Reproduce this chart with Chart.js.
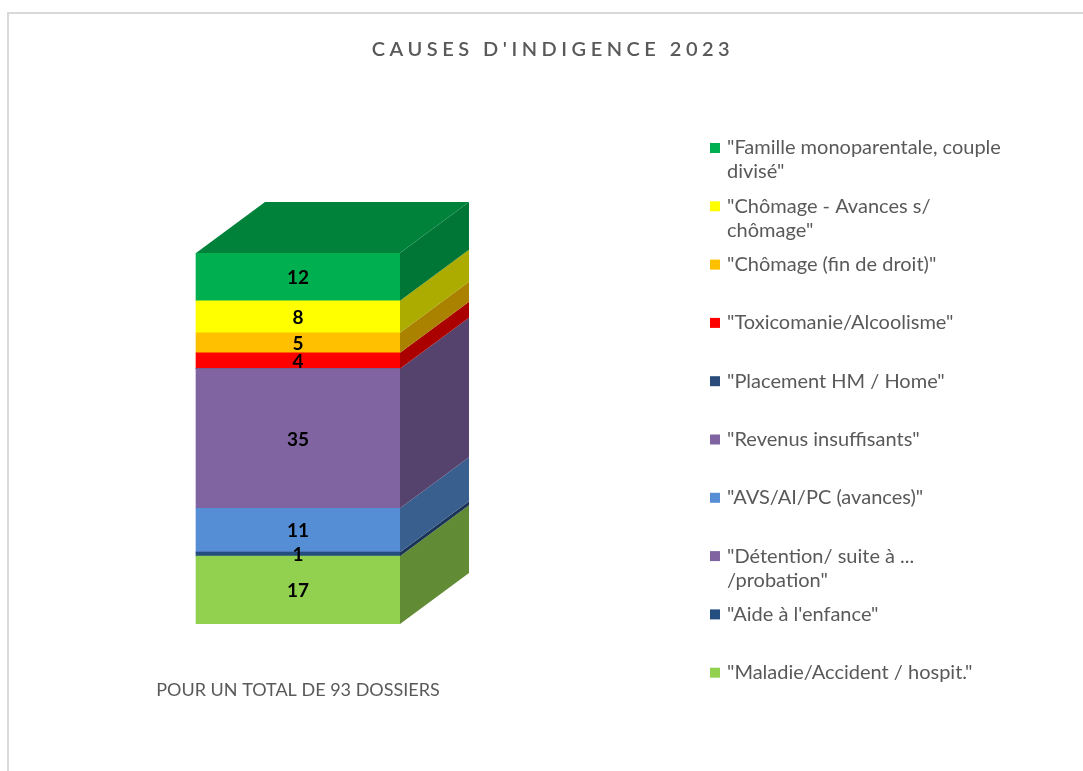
<!DOCTYPE html>
<html>
<head>
<meta charset="utf-8">
<script src="https://cdn.jsdelivr.net/npm/chart.js@4"></script>
<style>
  html, body { margin: 0; padding: 0; background: #ffffff; overflow: hidden; }
  #frame { position: absolute; left: 7px; top: 12px; width: 1200px; height: 900px; border-left: 2px solid #d9d9d9; border-top: 2px solid #d9d9d9; }
  #c { position: absolute; left: 0; top: 0; }
</style>
</head>
<body>
<div id="frame"></div>
<canvas id="c" width="1083" height="771"></canvas>
<script>
// ---- data (stack order, bottom to top) ----
const titleText = "CAUSES D'INDIGENCE 2023";
const categories = ['POUR UN TOTAL DE 93 DOSSIERS'];
const seriesNames = [
  '"Maladie/Accident / hospit."',
  '"Aide à l\'enfance"',
  '"Détention/ suite à ... /probation"',
  '"AVS/AI/PC (avances)"',
  '"Revenus insuffisants"',
  '"Placement HM / Home"',
  '"Toxicomanie/Alcoolisme"',
  '"Chômage (fin de droit)"',
  '"Chômage - Avances s/ chômage"',
  '"Famille monoparentale, couple divisé"'
];
const seriesValues = [17, 1, 0, 11, 35, 0, 4, 5, 8, 12];
const seriesColors = ['#92D050', '#254E80', '#8064A2', '#558ED5', '#8064A2', '#2A4C7A', '#FF0000', '#FFC000', '#FFFF00', '#00B050'];
const yMax = 93;

// ---- helpers ----
function shade(hex, f) {
  const n = parseInt(hex.slice(1), 16);
  const r = Math.round(((n >> 16) & 255) * f), g = Math.round(((n >> 8) & 255) * f), b = Math.round((n & 255) * f);
  return 'rgb(' + r + ',' + g + ',' + b + ')';
}
const DX = 69, DY = 51;
const FONT = 'Lato, "Open Sans", sans-serif';

const bar3d = {
  id: 'bar3d',
  afterDatasetsDraw(chart) {
    const ctx = chart.ctx;
    let topIdx = -1;
    chart.data.datasets.forEach((ds, i) => { if (ds.data[0] > 0) topIdx = i; });
    chart.data.datasets.forEach((ds, i) => {
      if (!(ds.data[0] > 0)) return;
      const el = chart.getDatasetMeta(i).data[0];
      const p = el.getProps(['x', 'y', 'base', 'width'], true);
      const left = p.x - p.width / 2, right = p.x + p.width / 2;
      ctx.save();
      ctx.fillStyle = shade(ds.backgroundColor, 0.67);
      ctx.beginPath();
      ctx.moveTo(right, p.y);
      ctx.lineTo(right + DX, p.y - DY);
      ctx.lineTo(right + DX, p.base - DY);
      ctx.lineTo(right, p.base);
      ctx.closePath();
      ctx.fill();
      if (i === topIdx) {
        ctx.fillStyle = shade(ds.backgroundColor, 0.74);
        ctx.beginPath();
        ctx.moveTo(left, p.y);
        ctx.lineTo(left + DX, p.y - DY);
        ctx.lineTo(right + DX, p.y - DY);
        ctx.lineTo(right, p.y);
        ctx.closePath();
        ctx.fill();
      }
      ctx.restore();
    });
    // value labels
    chart.data.datasets.forEach((ds, i) => {
      if (!(ds.data[0] > 0)) return;
      const el = chart.getDatasetMeta(i).data[0];
      const p = el.getProps(['x', 'y', 'base'], true);
      ctx.save();
      ctx.font = 'bold 19px ' + FONT;
      ctx.fillStyle = '#000000';
      ctx.textAlign = 'center';
      ctx.textBaseline = 'middle';
      ctx.fillText(String(ds.data[0]), p.x, (p.y + p.base) / 2 + 1);
      ctx.restore();
    });
  },
  afterDraw(chart) {
    const ctx = chart.ctx;
    // title
    ctx.save();
    ctx.font = '600 20px ' + FONT;
    ctx.fillStyle = '#595959';
    ctx.letterSpacing = '4.5px';
    ctx.textAlign = 'center';
    ctx.textBaseline = 'middle';
    ctx.fillText(titleText, 553, 50);
    ctx.restore();
    // legend (top of stack first)
    ctx.save();
    ctx.font = '20px ' + FONT;
    ctx.textBaseline = 'middle';
    const n = chart.data.datasets.length;
    const maxW = 285;
    for (let k = 0; k < n; k++) {
      const ds = chart.data.datasets[n - 1 - k];
      const cy = 148 + k * 58.3;
      ctx.fillStyle = ds.backgroundColor;
      ctx.fillRect(710, cy - 5, 10, 10);
      const words = ds.label.split(' ');
      const lines = [];
      let cur = '';
      words.forEach(w => {
        const t = cur ? cur + ' ' + w : w;
        if (cur && ctx.measureText(t).width > maxW) { lines.push(cur); cur = w; } else cur = t;
      });
      if (cur) lines.push(cur);
      ctx.fillStyle = '#595959';
      lines.forEach((ln, j) => ctx.fillText(ln, 727, cy + j * 24));
    }
    ctx.restore();
  }
};

const datasets = seriesNames.map((name, i) => ({
  label: name,
  data: [seriesValues[i]],
  backgroundColor: seriesColors[i],
  borderWidth: 0,
  barThickness: 204,
  stack: 's'
}));

new Chart(document.getElementById('c'), {
  type: 'bar',
  data: { labels: categories, datasets },
  options: {
    responsive: false,
    animation: false,
    devicePixelRatio: 1,
    layout: { padding: { left: 100, right: 587, top: 253, bottom: 0 } },
    plugins: { legend: { display: false }, title: { display: false }, tooltip: { enabled: false } },
    scales: {
      x: {
        stacked: true,
        grid: { display: false, drawTicks: false },
        border: { display: false },
        ticks: { color: '#595959', font: { family: FONT, size: 18 }, padding: 55 },
        afterFit(scale) { scale.height = 147; }
      },
      y: { stacked: true, display: false, min: 0, max: yMax }
    }
  },
  plugins: [bar3d]
});
</script>
</body>
</html>
